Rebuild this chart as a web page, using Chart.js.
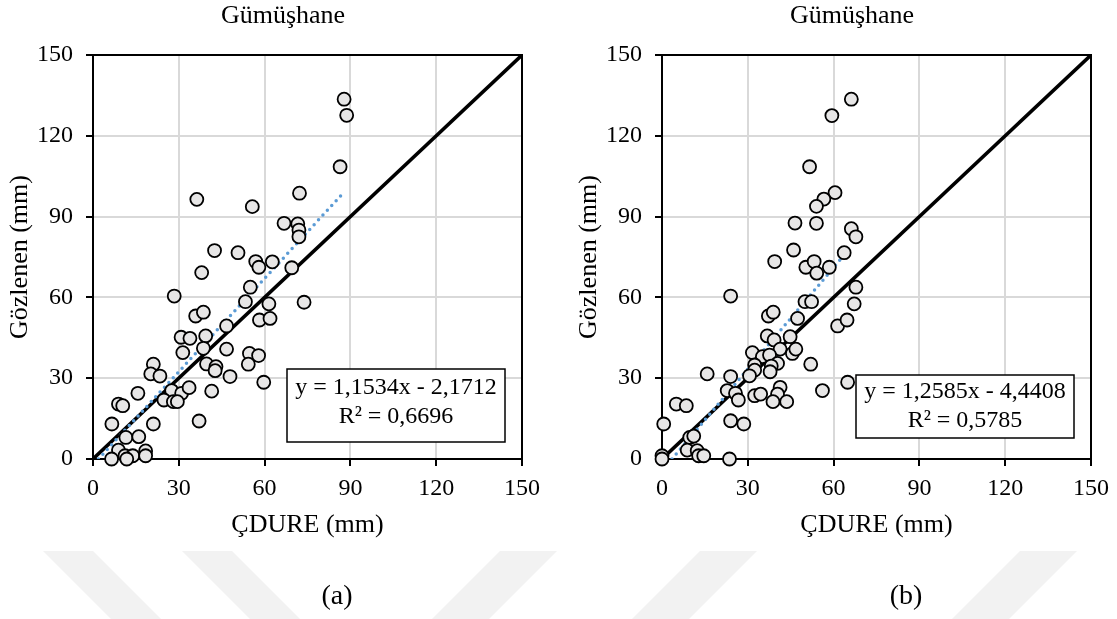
<!DOCTYPE html>
<html>
<head>
<meta charset="utf-8">
<script src="https://cdn.jsdelivr.net/npm/chart.js@4.4.0/dist/chart.umd.min.js"></script>
<style>
  html, body { margin: 0; padding: 0; background: #fff; }
  body { width: 1117px; height: 619px; position: relative; overflow: hidden; }
  #wm { position: absolute; left: 0; top: 0; }
  .box { position: absolute; top: 0; height: 619px; }
  #boxA { left: 0; width: 560px; }
  #boxB { left: 569px; width: 548px; }
</style>
</head>
<body>
<canvas id="wm" width="1117" height="619"></canvas>
<div class="box" id="boxA"><canvas id="chartA"></canvas></div>
<div class="box" id="boxB"><canvas id="chartB"></canvas></div>
<script>
// (a) ÇDURE vs gözlenen
const cdureA = [36.3, 55.7, 72.2, 66.8, 71.6, 72.0, 72.0, 87.8, 88.7, 86.4, 69.5, 73.8,
  42.5, 50.7, 56.9, 58.0, 62.7, 38.0, 28.4, 55.0, 53.3, 61.5, 58.2, 61.9, 35.9, 38.6,
  46.7, 30.8, 33.9, 39.4, 31.4, 38.6, 46.7, 54.7, 57.9, 54.3, 39.7, 43.0, 42.7, 47.9,
  59.7, 21.1, 20.2, 23.4, 15.7, 8.9, 10.4, 27.5, 31.0, 33.6, 24.8, 28.1, 29.5, 41.5,
  37.1, 6.6, 21.1, 11.5, 16.0, 8.9, 6.5, 11.2, 13.9, 18.4, 18.4, 11.8];
const gozlenenA = [96.4, 93.7, 98.7, 87.5, 87.3, 85.0, 82.5, 133.6, 127.6, 108.5, 71.0, 58.2,
  77.4, 76.6, 73.3, 71.2, 73.2, 69.2, 60.5, 63.8, 58.4, 57.6, 51.6, 52.2, 53.1, 54.5,
  49.4, 45.2, 44.8, 45.7, 39.5, 41.1, 40.8, 39.2, 38.4, 35.2, 35.3, 34.3, 32.8, 30.6,
  28.5, 35.2, 31.6, 30.8, 24.4, 20.4, 19.8, 25.4, 24.4, 26.5, 21.9, 21.3, 21.3, 25.2,
  14.1, 13.0, 13.0, 8.0, 8.3, 3.3, 0.0, 1.2, 1.2, 3.0, 1.2, 0.0];

// (b)
const cdureB = [66.2, 59.4, 51.6, 60.5, 56.6, 54.0, 46.5, 54.0, 66.2, 67.8,
  46.0, 39.4, 50.3, 53.2, 54.1, 58.5, 63.7, 67.8, 67.2, 61.4, 64.7, 64.9, 56.1, 52.0,
  24.0, 50.0, 52.3, 37.2, 38.9, 47.4, 36.8, 39.2, 44.8, 41.3, 45.6, 46.8, 31.6, 35.1,
  37.6, 40.4, 38.2, 37.8, 32.4, 32.4, 30.6, 24.0, 15.8, 22.8, 25.7, 26.7, 32.4, 34.5,
  41.3, 40.4, 38.8, 43.6, 5.0, 8.5, 0.6, 24.0, 28.6, 9.7, 11.1, 8.8, 12.3, 12.8, 14.6,
  0.0, 0.0, 23.6];
const gozlenenB = [133.6, 127.5, 108.5, 98.9, 96.5, 93.8, 87.6, 87.5, 85.5, 82.5,
  77.6, 73.3, 71.2, 73.3, 69.0, 71.2, 76.6, 63.8, 57.6, 49.4, 51.6, 28.5, 25.4, 35.2,
  60.5, 58.4, 58.4, 53.1, 54.5, 52.2, 45.7, 44.2, 45.4, 40.8, 39.2, 40.8, 39.5, 38.0,
  38.6, 35.5, 34.5, 32.4, 34.9, 33.0, 30.9, 30.6, 31.6, 25.4, 24.4, 21.9, 23.5, 24.1,
  26.6, 24.1, 21.3, 21.3, 20.4, 19.8, 13.0, 14.2, 13.0, 8.0, 8.5, 3.3, 3.1, 1.2, 1.2,
  1.2, 0.0, 0.0];

// trend line ends and the 1:1 line
const trendAx = [1.9, 87.8];
const trendAy = [0, 99.1];
const trendBx = [3.5, 66.2];
const trendBy = [0, 78.9];
const oneToOne = [0, 150];

const axisTicks = [0, 30, 60, 90, 120, 150];

const FONT = '"Liberation Serif", "Times New Roman", serif';

function toPoints(xs, ys) {
  return xs.map((x, i) => ({ x: x, y: ys[i] }));
}

// çerçeve, başlıklar ve denklem kutusu
const frameAndText = {
  id: 'frameAndText',
  beforeDatasetsDraw(chart) {
    const { ctx, chartArea: a } = chart;
    ctx.save();
    ctx.strokeStyle = '#000';
    ctx.lineWidth = 2;
    ctx.strokeRect(a.left, a.top, a.right - a.left, a.bottom - a.top);
    ctx.restore();
  },
  afterDraw(chart, args, o) {
    const { ctx, chartArea: a } = chart;
    ctx.save();
    ctx.fillStyle = '#000';
    ctx.textAlign = 'center';
    ctx.textBaseline = 'alphabetic';
    ctx.font = '26px ' + FONT;
    ctx.fillText(o.title, a.left + 190, 23);
    ctx.fillText(o.xTitle, (a.left + a.right) / 2, 532);
    ctx.save();
    ctx.translate(27, (a.top + a.bottom) / 2);
    ctx.rotate(-Math.PI / 2);
    ctx.fillText(o.yTitle, 0, 0);
    ctx.restore();
    ctx.font = '28px ' + FONT;
    ctx.fillText(o.label, a.left + 244, 604);

    // denklem kutusu
    const bx = a.left + 194, bw = 218;
    ctx.fillStyle = '#fff';
    ctx.fillRect(bx, o.boxTop, bw, o.boxBottom - o.boxTop);
    ctx.strokeStyle = '#000';
    ctx.lineWidth = 1.5;
    ctx.strokeRect(bx, o.boxTop, bw, o.boxBottom - o.boxTop);
    ctx.fillStyle = '#000';
    ctx.font = '24px ' + FONT;
    ctx.fillText(o.eq, bx + bw / 2, o.base1);
    ctx.fillText(o.r2, bx + bw / 2, o.base2);
    ctx.restore();
  }
};

function axisOptions(isX) {
  return {
    type: 'linear',
    min: 0,
    max: 150,
    afterBuildTicks(scale) {
      scale.ticks = axisTicks.map(v => ({ value: v }));
    },
    ticks: {
      color: '#000',
      font: { family: FONT, size: 24 },
      padding: isX ? 8 : 13,
      maxRotation: 0,
      autoSkip: false
    },
    grid: {
      color: '#d9d9d9',
      lineWidth: 2,
      tickColor: '#000',
      tickWidth: 2,
      tickLength: 7
    },
    border: { display: false },
    afterFit(scale) {
      if (isX) scale.height = 160;
      else scale.width = 93;
    }
  };
}

function makeChart(id, widthPx, xs, ys, tx, ty, texts) {
  return new Chart(document.getElementById(id), {
    type: 'scatter',
    data: {
      datasets: [
        {
          data: toPoints(xs, ys),
          pointRadius: 6.5,
          pointHoverRadius: 6.5,
          pointBackgroundColor: '#e7e6e6',
          pointBorderColor: '#000',
          pointBorderWidth: 1.8,
          clip: false,
          order: 0
        },
        {
          type: 'line',
          data: toPoints(tx, ty),
          borderColor: '#5b9bd5',
          borderWidth: 3.5,
          borderDash: [0, 6.5],
          borderCapStyle: 'round',
          pointRadius: 0,
          fill: false,
          order: 1
        },
        {
          type: 'line',
          data: toPoints(oneToOne, oneToOne),
          borderColor: '#000',
          borderWidth: 3.5,
          pointRadius: 0,
          fill: false,
          order: 2
        }
      ]
    },
    options: {
      responsive: true,
      maintainAspectRatio: false,
      animation: false,
      events: [],
      layout: { padding: { left: 0, right: widthPx - 522, top: 55, bottom: 0 } },
      plugins: {
        legend: { display: false },
        tooltip: { enabled: false },
        title: { display: false },
        frameAndText: texts
      },
      scales: {
        x: axisOptions(true),
        y: axisOptions(false)
      }
    },
    plugins: [frameAndText]
  });
}

// filigran (arka plan)
(function drawWatermark() {
  const c = document.getElementById('wm').getContext('2d');
  c.fillStyle = '#f2f2f2';
  const bands = [[43, 93, 68], [182, 232, 68], [500, 557, -68], [700, 757, -68], [1020, 1077, -68]];
  bands.forEach(b => {
    c.beginPath();
    c.moveTo(b[0], 551);
    c.lineTo(b[1], 551);
    c.lineTo(b[1] + b[2], 619);
    c.lineTo(b[0] + b[2], 619);
    c.closePath();
    c.fill();
  });
})();

makeChart('chartA', 560, cdureA, gozlenenA, trendAx, trendAy, {
  title: 'Gümüşhane', xTitle: 'ÇDURE (mm)', yTitle: 'Gözlenen (mm)', label: '(a)',
  eq: 'y = 1,1534x - 2,1712', r2: 'R² = 0,6696',
  boxTop: 369, boxBottom: 442, base1: 394, base2: 423
});
makeChart('chartB', 548, cdureB, gozlenenB, trendBx, trendBy, {
  title: 'Gümüşhane', xTitle: 'ÇDURE (mm)', yTitle: 'Gözlenen (mm)', label: '(b)',
  eq: 'y = 1,2585x - 4,4408', r2: 'R² = 0,5785',
  boxTop: 375, boxBottom: 438, base1: 398, base2: 427
});
</script>
</body>
</html>
